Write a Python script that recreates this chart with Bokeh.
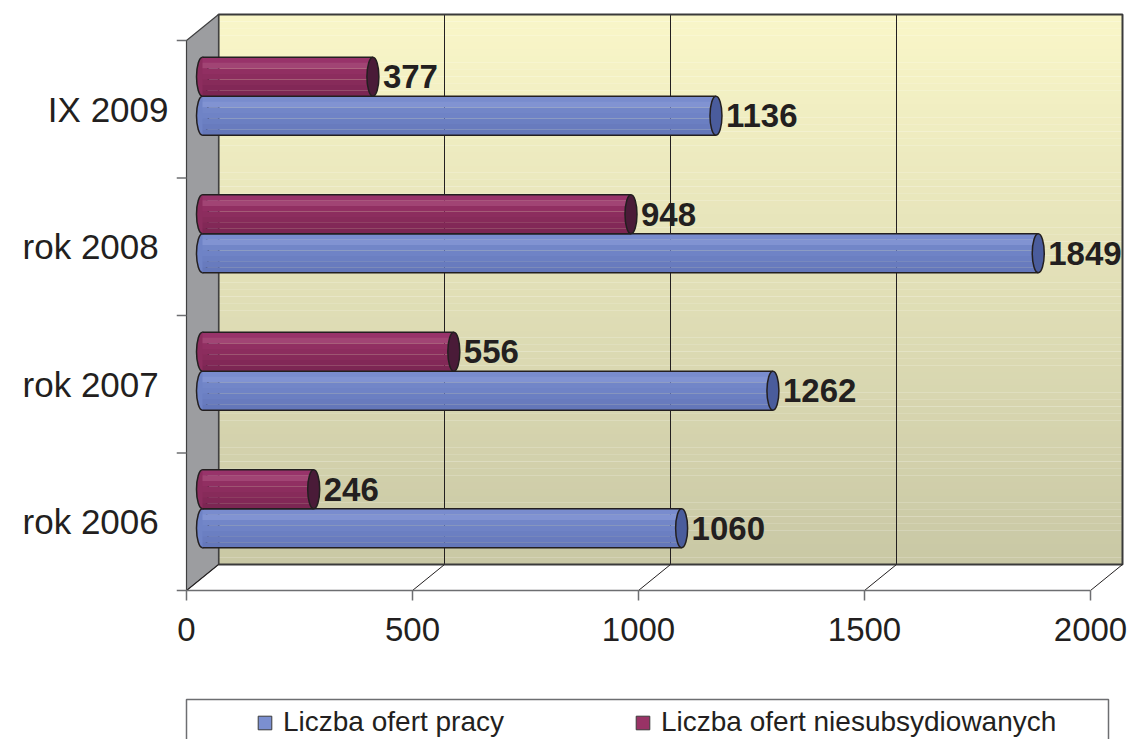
from bokeh.plotting import figure
from bokeh.models import Range1d, FixedTicker, Legend, LegendItem, InlineStyleSheet
from bokeh.layouts import column
from bokeh.embed import file_html
from bokeh.resources import INLINE
from bokeh.core.properties import value

# ---------------- data ----------------
categories = ["rok  2006", "rok  2007", "rok  2008", "IX 2009"]
oferty_pracy = [1060, 1262, 1849, 1136]
oferty_niesubsydiowane = [246, 556, 948, 377]
x_ticks = [0, 500, 1000, 1500, 2000]
series_names = ["Liczba ofert pracy", "Liczba ofert niesubsydiowanych"]

# ---------------- geometry (pixel scale helpers) ----------------
PX_X = 0.452           # px per value unit
PX_Y = 137.5           # px per category band
DX = 32 / PX_X         # depth offset (value units)
DY = 26 / PX_Y         # depth offset (category units)
XMAX = x_ticks[-1]
N = len(categories)
BH = 39 / PX_Y         # bar thickness
EW = 12 / PX_X         # cap ellipse width
FONT = "Liberation Sans"
INK = "#231f20"

pre_css = InlineStyleSheet(css=":host { white-space: pre; } text { white-space: pre; }")

p = figure(width=1132, height=691, output_backend="svg", toolbar_location=None,
           x_range=Range1d(-10 / PX_X, 938 / PX_X),
           y_range=Range1d(-4 / PX_Y, 580 / PX_Y),
           min_border_left=176, min_border_right=8, min_border_top=10,
           min_border_bottom=97)
p.stylesheets = [pre_css]
p.outline_line_color = None
p.grid.visible = False
p.background_fill_color = "white"
p.border_fill_color = "white"

# ---- back wall gradient ----
def mix(c1, c2, t):
    a = [int(c1[i:i + 2], 16) for i in (1, 3, 5)]
    b = [int(c2[i:i + 2], 16) for i in (1, 3, 5)]
    return "#%02x%02x%02x" % tuple(round(a[k] + (b[k] - a[k]) * t) for k in range(3))

S = 80
wall_top = N + DY
wall_bot = DY
h = (wall_top - wall_bot) / S
strip_tops = [wall_top - k * h for k in range(S)]
strip_bots = [wall_top - (k + 1) * h - 0.001 for k in range(S)]
strip_cols = [mix("#f9f6c8", "#c9c8a5", k / (S - 1)) for k in range(S)]
p.quad(left=DX, right=XMAX + DX, top=strip_tops, bottom=strip_bots,
       fill_color=strip_cols, line_color=None)

# back wall grid lines
p.segment(x0=[v + DX for v in x_ticks[1:-1]], y0=wall_bot,
          x1=[v + DX for v in x_ticks[1:-1]], y1=wall_top,
          line_color=INK, line_width=1)
# back wall frame
p.quad(left=DX, right=XMAX + DX, top=wall_top, bottom=wall_bot,
       fill_color=None, line_color="#3a3a3a", line_width=2)

# left wall
p.patch(x=[0, DX, DX, 0], y=[0, DY, N + DY, N], fill_color="#9c9da0",
        line_color="#404041", line_width=1.2)

# floor diagonals and front edge
p.segment(x0=x_ticks, y0=0, x1=[v + DX for v in x_ticks], y1=DY,
          line_color=INK, line_width=1)
p.segment(x0=-10 / PX_X, y0=0, x1=XMAX, y1=0, line_color="#6d6e71", line_width=1.5)
# category ticks on the left
p.segment(x0=-10 / PX_X, y0=list(range(1, N + 1)), x1=0, y1=list(range(1, N + 1)),
          line_color="#6d6e71", line_width=1.5)

# ---------------- bars ----------------
def draw_bar(values, upper, shades, cap_color):
    centers = [i + 0.5 + DY / 2 for i in range(N)]
    if upper:
        bots = list(centers)
        tops = [c + BH for c in centers]
    else:
        bots = [c - BH for c in centers]
        tops = list(centers)
    mids = [(a + b) / 2 for a, b in zip(bots, tops)]
    x0 = DX / 2
    x1 = [v + DX / 2 for v in values]
    # left rounded end
    p.ellipse(x=x0, y=mids, width=EW, height=BH, fill_color=shades[3],
              line_color=INK, line_width=1.5)
    ns = len(shades)
    for k, col in enumerate(shades):
        t = [tp - (tp - bt) * k / ns for tp, bt in zip(tops, bots)]
        b = [tp - (tp - bt) * (k + 1) / ns - 0.0005 for tp, bt in zip(tops, bots)]
        p.quad(left=x0, right=x1, top=t, bottom=b, fill_color=col, line_color=None)
    p.segment(x0=x0, y0=tops, x1=x1, y1=tops, line_color=INK, line_width=1.5)
    p.segment(x0=x0, y0=bots, x1=x1, y1=bots, line_color=INK, line_width=1.5)
    p.ellipse(x=x1, y=mids, width=EW, height=BH, fill_color=cap_color,
              line_color=INK, line_width=1.5)
    p.text(x=x1, y=mids, text=[str(v) for v in values], x_offset=10,
           text_align="left", text_baseline="middle", text_color=INK,
           text_font=value(FONT), text_font_style="bold", text_font_size="33px")

blue_shades = ["#798cce", "#8193d2", "#7286c8", "#6f83c6", "#6b7fc2", "#687bbe", "#6477ba"]
purple_shades = ["#98336a", "#a14474", "#912f62", "#8c2d5e", "#872b5a", "#822857", "#7c2653"]
draw_bar(oferty_pracy, False, blue_shades, "#4a5c9c")
draw_bar(oferty_niesubsydiowane, True, purple_shades, "#4a1b38")

# ---------------- axes ----------------
xa = p.xaxis[0]
xa.ticker = FixedTicker(ticks=x_ticks)
xa.axis_line_color = None
xa.major_tick_in = 4
xa.major_tick_out = 6
xa.major_tick_line_color = "#6d6e71"
xa.major_tick_line_width = 1.5
xa.minor_tick_line_color = None
xa.major_label_text_font = FONT
xa.major_label_text_font_size = "33px"
xa.major_label_text_color = INK
xa.major_label_standoff = 17

ya = p.yaxis[0]
ya.ticker = FixedTicker(ticks=[i + 0.5 for i in range(N)])
ya.major_label_overrides = {i + 0.5: c for i, c in enumerate(categories)}
ya.axis_line_color = None
ya.major_tick_line_color = None
ya.minor_tick_line_color = None
ya.major_tick_in = 0
ya.major_tick_out = 0
ya.major_label_text_font = FONT
ya.major_label_text_font_size = "35px"
ya.major_label_text_color = INK
ya.major_label_standoff = 8

# ---------------- legend strip ----------------
lg = figure(width=1132, height=48, output_backend="svg", toolbar_location=None,
            x_range=p.x_range, y_range=Range1d(48, 0),
            x_axis_location=None, y_axis_location=None,
            min_border_left=176, min_border_right=8, min_border_top=0,
            min_border_bottom=0)
lg.grid.visible = False
lg.outline_line_color = None
lg.quad(left=0, right=(1108 - 186) / PX_X, top=8, bottom=70, fill_color=None,
        line_color="#6d6e71", line_width=1.5)
# legend swatches (kept outside the visible strip; only their legend glyphs show)
r1 = lg.quad(left=[0], right=[1], top=[-200], bottom=[-190], fill_color="#7b8fd0",
             line_color="#3a3a3a", line_width=1)
r2 = lg.quad(left=[0], right=[1], top=[-200], bottom=[-190], fill_color="#993366",
             line_color="#3a3a3a", line_width=1)
legend = Legend(items=[LegendItem(label=series_names[0], renderers=[r1]),
                       LegendItem(label=series_names[1], renderers=[r2])],
                location=(80, 1), orientation="horizontal",
                padding=0, margin=0, spacing=130, label_standoff=10,
                glyph_width=17, glyph_height=17,
                label_text_font=FONT, label_text_font_size="28px",
                label_text_color=INK, border_line_color=None,
                background_fill_alpha=0)
lg.add_layout(legend, "center")

layout = column(p, lg, spacing=0)
open("out.html", "w").write(file_html(layout, INLINE))
